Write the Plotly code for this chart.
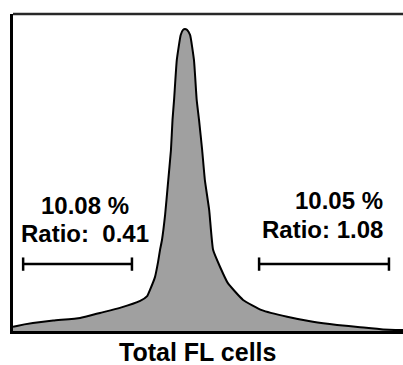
import plotly.graph_objects as go

# Histogram (channel vs. count)
channel = [0, 10, 51, 103, 172, 223, 274, 326, 344, 351, 364, 372, 377, 382, 390, 397,
           405, 409, 413, 420, 430, 436, 441, 446, 454, 464, 471, 477, 485, 492, 503,
           513, 531, 551, 590, 638, 703, 769, 831, 890, 949, 1000]
count = [13, 16, 25, 33, 41, 57, 73, 95, 110, 129, 170, 218, 256, 287, 366, 461,
         571, 666, 729, 855, 934, 950, 953, 950, 934, 855, 729, 666, 571, 476, 382,
         256, 202, 151, 98, 66, 45, 29, 19, 12, 5, 3]

# Gates
gate_left = [26, 305]
gate_right = [631, 964]
gate_level = 211
cap_half = 21

gate_labels_left = ["10.08 %", "Ratio:&nbsp;&nbsp;0.41"]
gate_labels_right = ["10.05 %", "Ratio: 1.08"]
x_title = "Total FL cells"

fig = go.Figure()
fig.add_trace(go.Scatter(
    x=channel, y=count, mode="lines", fill="tozeroy",
    fillcolor="rgb(160,160,160)",
    line=dict(color="black", width=2, shape="spline", smoothing=0.4),
    hoverinfo="skip", showlegend=False))

for g in (gate_left, gate_right):
    x0, x1 = g
    fig.add_trace(go.Scatter(
        x=[x0, x0, None, x0, x1, None, x1, x1],
        y=[gate_level - cap_half, gate_level + cap_half, None, gate_level, gate_level,
           None, gate_level - cap_half, gate_level + cap_half],
        mode="lines", line=dict(color="black", width=2.5),
        hoverinfo="skip", showlegend=False))

font = dict(family="Liberation Sans, Arial, sans-serif", size=24, color="black")
anns = [
    dict(x=185, y=396, text="<b>%s</b>" % gate_labels_left[0], xanchor="center"),
    dict(x=185, y=309, text="<b>%s</b>" % gate_labels_left[1], xanchor="center"),
    dict(x=955, y=412, text="<b>%s</b>" % gate_labels_right[0], xanchor="right"),
    dict(x=955, y=321, text="<b>%s</b>" % gate_labels_right[1], xanchor="right"),
]
for a in anns:
    fig.add_annotation(x=a["x"], y=a["y"], text=a["text"], xanchor=a["xanchor"],
                       yanchor="middle", showarrow=False, font=font,
                       xref="x", yref="y")

fig.add_annotation(x=0.472, y=-34 / 317, xref="paper", yref="paper",
                   text="<b>%s</b>" % x_title, showarrow=False,
                   xanchor="center", yanchor="bottom", yshift=-3,
                   font=dict(family="Liberation Sans, Arial, sans-serif", size=25,
                             color="black"))

fig.add_shape(type="line", xref="paper", yref="paper", x0=0, x1=1, y0=1, y1=1,
              line=dict(color="rgb(40,40,40)", width=2.5))

fig.update_layout(
    width=403, height=365,
    margin=dict(l=13, r=0, t=14, b=34),
    paper_bgcolor="white", plot_bgcolor="white",
    xaxis=dict(range=[0, 1000], showgrid=False, zeroline=False, showticklabels=False,
               ticks="", showline=True, linecolor="black", linewidth=2.5),
    yaxis=dict(range=[0, 1000], showgrid=False, zeroline=False, showticklabels=False,
               ticks="", showline=True, linecolor="black", linewidth=2.5),
)

fig.write_html("out.html")
